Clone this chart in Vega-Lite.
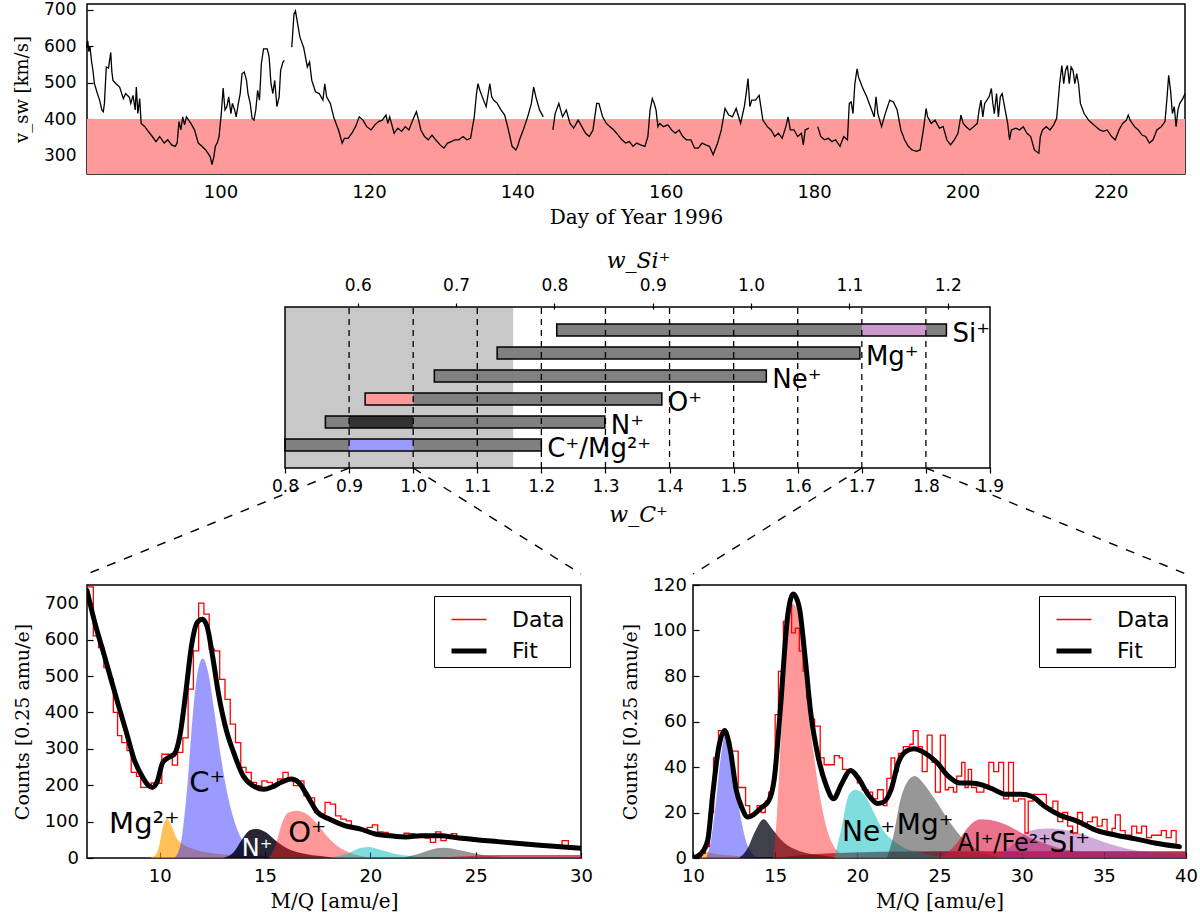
{
  "$schema": "https://vega.github.io/schema/vega-lite/v6.json",
  "background": "white",
  "padding": {"left": 12, "top": 0, "right": 5, "bottom": 5},
  "config": {
    "view": {"stroke": "black", "strokeWidth": 1.5},
    "font": "DejaVu Sans",
    "axis": {
      "labelFont": "DejaVu Sans", "labelFontSize": 18, "labelColor": "black", "labelFlush": false,
      "titleFont": "DejaVu Serif", "titleFontSize": 20, "titleFontWeight": "normal", "titleColor": "black",
      "domain": false, "tickColor": "black", "tickSize": -6, "tickWidth": 1.2, "grid": false
    }
  },
  "datasets": {
    "ts": [
      {"d":81.95,"v":595,"s":1},{"d":82.1,"v":615,"s":1},{"d":82.25,"v":585,"s":1},{"d":82.4,"v":600,"s":1},{"d":82.6,"v":560,"s":1},{"d":82.8,"v":534,"s":1},{"d":83.0,"v":497,"s":1},{"d":83.4,"v":470,"s":1},{"d":83.7,"v":452,"s":1},{"d":84.0,"v":425,"s":1},{"d":84.2,"v":420,"s":1},{"d":84.35,"v":443,"s":1},{"d":84.6,"v":543,"s":1},{"d":84.9,"v":540,"s":1},{"d":85.2,"v":583,"s":1},{"d":85.35,"v":530,"s":1},{"d":85.5,"v":506,"s":1},{"d":85.9,"v":497,"s":1},{"d":86.4,"v":488,"s":1},{"d":86.9,"v":456,"s":1},{"d":87.2,"v":470,"s":1},{"d":87.7,"v":460,"s":1},{"d":87.9,"v":443,"s":1},{"d":88.2,"v":465,"s":1},{"d":88.5,"v":425,"s":1},{"d":88.65,"v":488,"s":1},{"d":88.85,"v":415,"s":1},{"d":89.1,"v":456,"s":1},{"d":89.3,"v":388,"s":1},{"d":89.8,"v":379,"s":1},{"d":90.3,"v":365,"s":1},{"d":90.8,"v":352,"s":1},{"d":91.3,"v":338,"s":1},{"d":91.8,"v":352,"s":1},{"d":92.4,"v":334,"s":1},{"d":92.9,"v":343,"s":1},{"d":93.4,"v":329,"s":1},{"d":93.9,"v":325,"s":1},{"d":94.15,"v":334,"s":1},{"d":94.4,"v":393,"s":1},{"d":94.65,"v":370,"s":1},{"d":94.9,"v":406,"s":1},{"d":95.15,"v":384,"s":1},{"d":95.4,"v":406,"s":1},{"d":95.7,"v":397,"s":1},{"d":96.0,"v":388,"s":1},{"d":96.5,"v":370,"s":1},{"d":97.0,"v":334,"s":1},{"d":97.5,"v":325,"s":1},{"d":98.0,"v":315,"s":1},{"d":98.6,"v":297,"s":1},{"d":98.85,"v":275,"s":1},{"d":99.1,"v":297,"s":1},{"d":99.3,"v":325,"s":1},{"d":99.55,"v":334,"s":1},{"d":99.8,"v":352,"s":1},{"d":100.1,"v":415,"s":1},{"d":100.35,"v":485,"s":1},{"d":100.6,"v":425,"s":1},{"d":100.85,"v":434,"s":1},{"d":101.1,"v":461,"s":1},{"d":101.4,"v":415,"s":1},{"d":101.6,"v":443,"s":1},{"d":101.9,"v":425,"s":1},{"d":102.1,"v":406,"s":1},{"d":102.4,"v":443,"s":1},{"d":102.65,"v":470,"s":1},{"d":102.9,"v":525,"s":1},{"d":103.2,"v":529,"s":1},{"d":103.5,"v":506,"s":1},{"d":103.7,"v":470,"s":1},{"d":104.0,"v":443,"s":1},{"d":104.25,"v":402,"s":1},{"d":104.5,"v":397,"s":1},{"d":104.75,"v":425,"s":1},{"d":105.0,"v":479,"s":1},{"d":105.25,"v":452,"s":1},{"d":105.5,"v":552,"s":1},{"d":105.8,"v":593,"s":1},{"d":106.3,"v":593,"s":1},{"d":106.55,"v":570,"s":1},{"d":106.8,"v":497,"s":1},{"d":107.05,"v":470,"s":1},{"d":107.3,"v":506,"s":1},{"d":107.6,"v":434,"s":1},{"d":107.9,"v":461,"s":1},{"d":108.1,"v":534,"s":1},{"d":108.4,"v":556,"s":1},{"d":108.6,"v":561,"s":1},
      {"d":109.6,"v":597,"s":2},{"d":109.9,"v":688,"s":2},{"d":110.1,"v":697,"s":2},{"d":110.4,"v":661,"s":2},{"d":110.7,"v":625,"s":2},{"d":111.2,"v":597,"s":2},{"d":111.7,"v":543,"s":2},{"d":112.0,"v":557,"s":2},{"d":112.3,"v":506,"s":2},{"d":112.8,"v":475,"s":2},{"d":113.3,"v":470,"s":2},{"d":113.8,"v":452,"s":2},{"d":114.05,"v":497,"s":2},{"d":114.3,"v":461,"s":2},{"d":114.8,"v":443,"s":2},{"d":115.3,"v":402,"s":2},{"d":115.9,"v":370,"s":2},{"d":116.4,"v":334,"s":2},{"d":116.7,"v":347,"s":2},{"d":117.2,"v":347,"s":2},{"d":117.7,"v":361,"s":2},{"d":118.2,"v":379,"s":2},{"d":118.7,"v":406,"s":2},{"d":119.2,"v":397,"s":2},{"d":119.7,"v":379,"s":2},{"d":120.3,"v":370,"s":2},{"d":120.8,"v":384,"s":2},{"d":121.3,"v":393,"s":2},{"d":121.8,"v":397,"s":2},{"d":122.3,"v":411,"s":2},{"d":122.55,"v":388,"s":2},{"d":122.8,"v":406,"s":2},{"d":123.4,"v":361,"s":2},{"d":123.9,"v":375,"s":2},{"d":124.4,"v":366,"s":2},{"d":124.9,"v":379,"s":2},{"d":125.4,"v":370,"s":2},{"d":125.9,"v":397,"s":2},{"d":126.4,"v":420,"s":2},{"d":126.7,"v":397,"s":2},{"d":127.0,"v":370,"s":2},{"d":127.5,"v":352,"s":2},{"d":128.0,"v":343,"s":2},{"d":128.5,"v":356,"s":2},{"d":129.0,"v":343,"s":2},{"d":129.6,"v":329,"s":2},{"d":130.1,"v":320,"s":2},{"d":130.6,"v":334,"s":2},{"d":131.1,"v":338,"s":2},{"d":131.6,"v":343,"s":2},{"d":132.1,"v":343,"s":2},{"d":132.7,"v":352,"s":2},{"d":133.2,"v":343,"s":2},{"d":133.7,"v":347,"s":2},{"d":134.2,"v":406,"s":2},{"d":134.5,"v":470,"s":2},{"d":134.7,"v":497,"s":2},{"d":134.95,"v":479,"s":2},{"d":135.2,"v":465,"s":2},{"d":135.8,"v":434,"s":2},{"d":136.3,"v":497,"s":2},{"d":136.55,"v":461,"s":2},{"d":136.8,"v":452,"s":2},{"d":137.3,"v":443,"s":2},{"d":137.8,"v":425,"s":2},{"d":138.3,"v":411,"s":2},{"d":138.8,"v":370,"s":2},{"d":139.3,"v":325,"s":2},{"d":139.8,"v":315,"s":2},{"d":140.05,"v":325,"s":2},{"d":140.3,"v":343,"s":2},{"d":140.8,"v":370,"s":2},{"d":141.4,"v":406,"s":2},{"d":141.9,"v":443,"s":2},{"d":142.2,"v":488,"s":2},{"d":142.5,"v":461,"s":2},{"d":143.0,"v":425,"s":2},{"d":143.5,"v":406,"s":2},
      {"d":144.8,"v":370,"s":3},{"d":145.1,"v":415,"s":3},{"d":145.6,"v":443,"s":3},{"d":146.1,"v":406,"s":3},{"d":146.6,"v":425,"s":3},{"d":147.1,"v":388,"s":3},{"d":147.6,"v":375,"s":3},{"d":148.2,"v":397,"s":3},{"d":148.7,"v":379,"s":3},{"d":149.2,"v":361,"s":3},{"d":149.7,"v":352,"s":3},{"d":150.2,"v":370,"s":3},{"d":150.7,"v":443,"s":3},{"d":151.0,"v":443,"s":3},{"d":151.5,"v":406,"s":3},{"d":152.0,"v":388,"s":3},{"d":152.5,"v":379,"s":3},{"d":153.0,"v":370,"s":3},{"d":153.6,"v":356,"s":3},{"d":154.1,"v":343,"s":3},{"d":154.6,"v":334,"s":3},{"d":155.1,"v":338,"s":3},{"d":155.6,"v":325,"s":3},{"d":156.1,"v":334,"s":3},{"d":156.6,"v":329,"s":3},{"d":157.2,"v":325,"s":3},{"d":157.6,"v":352,"s":3},{"d":157.9,"v":425,"s":3},{"d":158.2,"v":456,"s":3},{"d":158.45,"v":443,"s":3},{"d":158.7,"v":425,"s":3},{"d":158.95,"v":379,"s":3},{"d":159.2,"v":388,"s":3},{"d":159.7,"v":379,"s":3},{"d":160.3,"v":384,"s":3},{"d":160.8,"v":370,"s":3},{"d":161.3,"v":361,"s":3},{"d":161.8,"v":370,"s":3},{"d":162.3,"v":352,"s":3},{"d":162.8,"v":343,"s":3},{"d":163.4,"v":343,"s":3},{"d":163.9,"v":320,"s":3},{"d":164.4,"v":320,"s":3},{"d":164.9,"v":334,"s":3},{"d":165.4,"v":329,"s":3},{"d":165.9,"v":325,"s":3},{"d":166.4,"v":302,"s":3},{"d":167.0,"v":334,"s":3},{"d":167.5,"v":370,"s":3},{"d":168.0,"v":429,"s":3},{"d":168.5,"v":411,"s":3},{"d":169.0,"v":406,"s":3},{"d":169.5,"v":429,"s":3},{"d":170.1,"v":388,"s":3},{"d":170.6,"v":434,"s":3},{"d":170.85,"v":470,"s":3},{"d":171.1,"v":511,"s":3},{"d":171.35,"v":434,"s":3},{"d":171.6,"v":452,"s":3},{"d":172.1,"v":452,"s":3},{"d":172.6,"v":465,"s":3},{"d":173.1,"v":397,"s":3},{"d":173.7,"v":379,"s":3},{"d":174.2,"v":370,"s":3},{"d":174.7,"v":352,"s":3},{"d":175.2,"v":361,"s":3},{"d":175.7,"v":347,"s":3},{"d":176.2,"v":379,"s":3},{"d":176.5,"v":406,"s":3},{"d":176.8,"v":370,"s":3},{"d":177.3,"v":370,"s":3},{"d":177.8,"v":352,"s":3},{"d":178.3,"v":361,"s":3},{"d":178.55,"v":329,"s":3},{"d":178.8,"v":370,"s":3},{"d":179.3,"v":375,"s":3},
      {"d":180.5,"v":379,"s":4},{"d":180.9,"v":352,"s":4},{"d":181.4,"v":343,"s":4},{"d":181.9,"v":347,"s":4},{"d":182.4,"v":338,"s":4},{"d":182.9,"v":343,"s":4},{"d":183.5,"v":325,"s":4},{"d":184.0,"v":352,"s":4},{"d":184.5,"v":343,"s":4},{"d":184.75,"v":443,"s":4},{"d":185.0,"v":447,"s":4},{"d":185.25,"v":415,"s":4},{"d":185.5,"v":497,"s":4},{"d":185.8,"v":538,"s":4},{"d":186.0,"v":515,"s":4},{"d":186.5,"v":488,"s":4},{"d":187.1,"v":461,"s":4},{"d":187.6,"v":434,"s":4},{"d":188.1,"v":406,"s":4},{"d":188.35,"v":461,"s":4},{"d":188.6,"v":415,"s":4},{"d":189.1,"v":379,"s":4},{"d":189.6,"v":415,"s":4},{"d":190.2,"v":452,"s":4},{"d":190.7,"v":447,"s":4},{"d":191.2,"v":425,"s":4},{"d":191.7,"v":370,"s":4},{"d":192.2,"v":343,"s":4},{"d":192.7,"v":325,"s":4},{"d":193.2,"v":315,"s":4},{"d":193.8,"v":311,"s":4},{"d":194.3,"v":315,"s":4},{"d":194.8,"v":379,"s":4},{"d":195.1,"v":429,"s":4},{"d":195.3,"v":406,"s":4},{"d":195.8,"v":388,"s":4},{"d":196.3,"v":397,"s":4},{"d":196.9,"v":375,"s":4},{"d":197.4,"v":379,"s":4},{"d":197.9,"v":343,"s":4},{"d":198.4,"v":329,"s":4},{"d":198.9,"v":343,"s":4},{"d":199.4,"v":361,"s":4},{"d":199.8,"v":411,"s":4},{"d":200.1,"v":388,"s":4},{"d":200.5,"v":379,"s":4},{"d":201.0,"v":370,"s":4},{"d":201.5,"v":379,"s":4},{"d":202.0,"v":388,"s":4},{"d":202.25,"v":425,"s":4},{"d":202.5,"v":452,"s":4},{"d":202.75,"v":406,"s":4},{"d":203.0,"v":443,"s":4},{"d":203.6,"v":461,"s":4},{"d":203.9,"v":484,"s":4},{"d":204.1,"v":443,"s":4},{"d":204.3,"v":415,"s":4},{"d":204.6,"v":470,"s":4},{"d":204.85,"v":406,"s":4},{"d":205.1,"v":461,"s":4},{"d":205.35,"v":470,"s":4},{"d":205.6,"v":443,"s":4},{"d":205.85,"v":415,"s":4},{"d":206.1,"v":388,"s":4},{"d":206.35,"v":343,"s":4},{"d":206.6,"v":370,"s":4},{"d":207.2,"v":375,"s":4},{"d":207.7,"v":370,"s":4},{"d":208.2,"v":379,"s":4},{"d":208.7,"v":361,"s":4},{"d":209.2,"v":352,"s":4},{"d":209.7,"v":315,"s":4},{"d":210.3,"v":306,"s":4},{"d":210.5,"v":352,"s":4},{"d":210.8,"v":370,"s":4},{"d":211.3,"v":379,"s":4},{"d":211.8,"v":370,"s":4},{"d":212.3,"v":384,"s":4},{"d":212.7,"v":402,"s":4},{"d":213.1,"v":497,"s":4},{"d":213.4,"v":547,"s":4},{"d":213.65,"v":497,"s":4},{"d":213.9,"v":534,"s":4},{"d":214.15,"v":547,"s":4},{"d":214.4,"v":497,"s":4},{"d":214.65,"v":543,"s":4},{"d":214.9,"v":534,"s":4},{"d":215.15,"v":497,"s":4},{"d":215.4,"v":525,"s":4},{"d":215.65,"v":497,"s":4},{"d":215.9,"v":443,"s":4},{"d":216.4,"v":415,"s":4},{"d":217.0,"v":397,"s":4},{"d":217.5,"v":388,"s":4},{"d":218.0,"v":379,"s":4},{"d":218.5,"v":370,"s":4},{"d":219.0,"v":366,"s":4},{"d":219.5,"v":370,"s":4},{"d":220.1,"v":352,"s":4},{"d":220.6,"v":343,"s":4},{"d":221.1,"v":370,"s":4},{"d":221.6,"v":388,"s":4},{"d":222.1,"v":397,"s":4},{"d":222.35,"v":411,"s":4},{"d":222.6,"v":397,"s":4},{"d":223.2,"v":379,"s":4},{"d":223.7,"v":370,"s":4},{"d":224.2,"v":356,"s":4},{"d":224.7,"v":352,"s":4},{"d":225.2,"v":334,"s":4},{"d":225.7,"v":343,"s":4},{"d":226.2,"v":370,"s":4},{"d":226.8,"v":379,"s":4},{"d":227.3,"v":393,"s":4},{"d":227.55,"v":452,"s":4},{"d":227.8,"v":520,"s":4},{"d":228.05,"v":479,"s":4},{"d":228.3,"v":415,"s":4},{"d":228.55,"v":434,"s":4},{"d":228.8,"v":379,"s":4},{"d":229.05,"v":425,"s":4},{"d":229.3,"v":443,"s":4},{"d":229.7,"v":456,"s":4},{"d":230.0,"v":470,"s":4}
    ],
    "hl": [
      {"m":6.55,"c":745},{"m":6.85,"c":610},{"m":7.1,"c":578},{"m":7.35,"c":523},{"m":7.6,"c":493},{"m":7.8,"c":400},{"m":8.0,"c":336},{"m":8.2,"c":317},{"m":8.45,"c":295},{"m":8.65,"c":235},{"m":8.9,"c":224},{"m":9.1,"c":194},{"m":9.6,"c":206},{"m":9.85,"c":205},{"m":10.1,"c":285},{"m":10.35,"c":285},{"m":10.6,"c":255},{"m":10.85,"c":290},{"m":11.1,"c":330},{"m":11.35,"c":464},{"m":11.6,"c":569},{"m":11.85,"c":700},{"m":12.1,"c":670},{"m":12.35,"c":574},{"m":12.6,"c":569},{"m":12.85,"c":491},{"m":13.1,"c":436},{"m":13.35,"c":368},{"m":13.6,"c":317},{"m":13.85,"c":249},{"m":14.1,"c":235},{"m":14.35,"c":208},{"m":14.6,"c":199},{"m":14.85,"c":212},{"m":15.1,"c":208},{"m":15.35,"c":199},{"m":15.6,"c":217},{"m":15.85,"c":235},{"m":16.1,"c":217},{"m":16.35,"c":199},{"m":16.6,"c":212},{"m":16.85,"c":171},{"m":17.1,"c":165},{"m":17.35,"c":125},{"m":17.6,"c":121},{"m":17.85,"c":153},{"m":18.1,"c":148},{"m":18.35,"c":116},{"m":18.6,"c":107},{"m":18.85,"c":102},{"m":19.1,"c":84},{"m":19.35,"c":80},{"m":19.6,"c":75},{"m":19.85,"c":84},{"m":20.1,"c":91},{"m":20.35,"c":72},{"m":20.6,"c":70},{"m":20.85,"c":63},{"m":21.1,"c":61},{"m":21.35,"c":58},{"m":21.6,"c":68},{"m":21.85,"c":67},{"m":22.1,"c":60},{"m":22.35,"c":62},{"m":22.6,"c":55},{"m":22.85,"c":43},{"m":23.1,"c":72},{"m":23.35,"c":48},{"m":23.6,"c":60},{"m":23.85,"c":67},{"m":24.1,"c":55},{"m":24.35,"c":50},{"m":24.6,"c":52},{"m":24.85,"c":46},{"m":25.1,"c":46},{"m":25.35,"c":45},{"m":25.6,"c":44},{"m":25.85,"c":42},{"m":26.1,"c":42},{"m":26.35,"c":40},{"m":26.6,"c":38},{"m":26.85,"c":37},{"m":27.1,"c":36},{"m":27.35,"c":34},{"m":27.6,"c":33},{"m":27.85,"c":32},{"m":28.1,"c":31},{"m":28.35,"c":30},{"m":28.6,"c":29},{"m":28.85,"c":28},{"m":29.1,"c":48},{"m":29.4,"c":27},{"m":29.7,"c":25},{"m":30.0,"c":25}
    ],
    "fl": [
      {"m":6.55,"c":735},{"m":6.96,"c":638},{"m":7.33,"c":565},{"m":7.69,"c":491},{"m":8.05,"c":418},{"m":8.42,"c":345},{"m":8.78,"c":272},{"m":9.15,"c":226},{"m":9.45,"c":200},{"m":9.65,"c":194},{"m":9.87,"c":208},{"m":10.15,"c":263},{"m":10.42,"c":276},{"m":10.69,"c":285},{"m":10.96,"c":336},{"m":11.24,"c":455},{"m":11.51,"c":583},{"m":11.78,"c":647},{"m":12.02,"c":656},{"m":12.24,"c":638},{"m":12.51,"c":555},{"m":12.78,"c":455},{"m":13.15,"c":354},{"m":13.51,"c":290},{"m":13.96,"c":226},{"m":14.42,"c":199},{"m":14.96,"c":189},{"m":15.33,"c":195},{"m":15.78,"c":208},{"m":16.24,"c":217},{"m":16.6,"c":208},{"m":16.96,"c":176},{"m":17.5,"c":125},{"m":18.05,"c":107},{"m":18.78,"c":89},{"m":19.5,"c":80},{"m":20.24,"c":66},{"m":20.96,"c":61},{"m":21.7,"c":58},{"m":22.4,"c":61},{"m":23.3,"c":61},{"m":24.2,"c":55},{"m":26.05,"c":45},{"m":27.9,"c":36},{"m":30.0,"c":27}
    ],
    "cl": [
      {"g":"mg2","m":9.5,"c":0},{"g":"mg2","m":9.8,"c":8},{"g":"mg2","m":10.0,"c":40},{"g":"mg2","m":10.15,"c":85},{"g":"mg2","m":10.35,"c":107},{"g":"mg2","m":10.55,"c":90},{"g":"mg2","m":10.8,"c":55},{"g":"mg2","m":11.1,"c":38},{"g":"mg2","m":11.6,"c":25},{"g":"mg2","m":12.3,"c":15},{"g":"mg2","m":13.3,"c":8},{"g":"mg2","m":14.5,"c":4},{"g":"mg2","m":16,"c":2},{"g":"mg2","m":19,"c":0},
      {"g":"c","m":10.7,"c":0},{"g":"c","m":11.0,"c":40},{"g":"c","m":11.3,"c":190},{"g":"c","m":11.6,"c":410},{"g":"c","m":11.85,"c":525},{"g":"c","m":12.05,"c":548},{"g":"c","m":12.3,"c":510},{"g":"c","m":12.6,"c":400},{"g":"c","m":12.9,"c":280},{"g":"c","m":13.2,"c":180},{"g":"c","m":13.5,"c":110},{"g":"c","m":13.8,"c":62},{"g":"c","m":14.2,"c":25},{"g":"c","m":14.7,"c":8},{"g":"c","m":15.5,"c":0},
      {"g":"n","m":13.0,"c":0},{"g":"n","m":13.5,"c":15},{"g":"n","m":13.9,"c":50},{"g":"n","m":14.3,"c":77},{"g":"n","m":14.6,"c":80},{"g":"n","m":15.0,"c":72},{"g":"n","m":15.5,"c":48},{"g":"n","m":16.0,"c":28},{"g":"n","m":17.0,"c":10},{"g":"n","m":18.0,"c":3},{"g":"n","m":19.0,"c":0},
      {"g":"o","m":15.2,"c":0},{"g":"o","m":15.5,"c":35},{"g":"o","m":15.8,"c":95},{"g":"o","m":16.1,"c":124},{"g":"o","m":16.5,"c":130},{"g":"o","m":17.0,"c":120},{"g":"o","m":17.5,"c":92},{"g":"o","m":18.0,"c":56},{"g":"o","m":18.5,"c":30},{"g":"o","m":19.0,"c":15},{"g":"o","m":19.5,"c":6},{"g":"o","m":20.5,"c":0},
      {"g":"ne","m":18.0,"c":0},{"g":"ne","m":18.8,"c":10},{"g":"ne","m":19.4,"c":25},{"g":"ne","m":19.9,"c":30},{"g":"ne","m":20.5,"c":22},{"g":"ne","m":21.3,"c":10},{"g":"ne","m":22.3,"c":3},{"g":"ne","m":23.0,"c":0},
      {"g":"mg","m":21.5,"c":0},{"g":"mg","m":22.3,"c":12},{"g":"mg","m":23.0,"c":25},{"g":"mg","m":23.5,"c":28},{"g":"mg","m":24.2,"c":22},{"g":"mg","m":25.0,"c":12},{"g":"mg","m":26.0,"c":4},{"g":"mg","m":27.0,"c":0},
      {"g":"alfe","m":23.0,"c":0},{"g":"alfe","m":24.5,"c":5},{"g":"alfe","m":26.0,"c":8},{"g":"alfe","m":28.0,"c":8},{"g":"alfe","m":30.0,"c":8}
    ],
    "hr": [
      {"m":10.0,"c":0},{"m":10.5,"c":2},{"m":10.75,"c":5},{"m":11.0,"c":20},{"m":11.25,"c":44},{"m":11.55,"c":56},{"m":11.8,"c":55},{"m":12.05,"c":51},{"m":12.3,"c":47},{"m":12.75,"c":31},{"m":13.2,"c":23},{"m":13.45,"c":19},{"m":13.7,"c":20},{"m":13.9,"c":23},{"m":14.15,"c":20},{"m":14.4,"c":25},{"m":14.6,"c":29},{"m":14.85,"c":36},{"m":15.0,"c":63},{"m":15.2,"c":82},{"m":15.5,"c":104},{"m":15.77,"c":111},{"m":16.0,"c":99},{"m":16.23,"c":101},{"m":16.47,"c":91},{"m":16.7,"c":82},{"m":16.93,"c":70},{"m":17.16,"c":61},{"m":17.4,"c":58},{"m":17.74,"c":44},{"m":17.98,"c":41},{"m":18.33,"c":41},{"m":18.6,"c":45},{"m":18.9,"c":44},{"m":19.1,"c":39},{"m":19.37,"c":38},{"m":19.72,"c":37},{"m":20.0,"c":33},{"m":20.3,"c":30},{"m":20.65,"c":29},{"m":20.93,"c":26},{"m":21.23,"c":30},{"m":21.58,"c":23},{"m":21.8,"c":35},{"m":22.05,"c":44},{"m":22.28,"c":38},{"m":22.5,"c":46},{"m":22.8,"c":49},{"m":23.2,"c":50},{"m":23.4,"c":56},{"m":23.7,"c":49},{"m":23.95,"c":38},{"m":24.25,"c":54},{"m":24.55,"c":42},{"m":24.75,"c":29},{"m":25.05,"c":54},{"m":25.35,"c":30},{"m":25.55,"c":31},{"m":25.85,"c":29},{"m":26.05,"c":36},{"m":26.35,"c":42},{"m":26.55,"c":31},{"m":26.75,"c":39},{"m":26.95,"c":31},{"m":27.25,"c":29},{"m":27.7,"c":31},{"m":28.0,"c":42},{"m":28.3,"c":38},{"m":28.6,"c":42},{"m":28.9,"c":26},{"m":29.2,"c":42},{"m":29.5,"c":25},{"m":29.8,"c":26},{"m":30.2,"c":11},{"m":30.4,"c":25},{"m":30.7,"c":28},{"m":31.5,"c":22},{"m":31.9,"c":25},{"m":32.2,"c":16},{"m":32.5,"c":20},{"m":32.8,"c":14},{"m":33.1,"c":11},{"m":33.4,"c":20},{"m":33.7,"c":14},{"m":34.0,"c":16},{"m":34.3,"c":18},{"m":34.6,"c":14},{"m":34.9,"c":17},{"m":35.2,"c":10},{"m":35.5,"c":13},{"m":35.7,"c":19},{"m":36.0,"c":12},{"m":36.3,"c":10},{"m":36.7,"c":14},{"m":37.0,"c":11},{"m":37.3,"c":14},{"m":37.6,"c":9},{"m":37.9,"c":10},{"m":38.5,"c":12},{"m":38.8,"c":9},{"m":39.1,"c":12},{"m":39.4,"c":5},{"m":39.7,"c":5}
    ],
    "fr": [
      {"m":10.0,"c":0},{"m":10.5,"c":2},{"m":10.9,"c":8},{"m":11.2,"c":28},{"m":11.55,"c":48},{"m":11.93,"c":56},{"m":12.28,"c":47},{"m":12.63,"c":30},{"m":12.98,"c":22},{"m":13.33,"c":18},{"m":13.67,"c":19},{"m":14.14,"c":22},{"m":14.6,"c":25},{"m":14.95,"c":35},{"m":15.3,"c":64},{"m":15.77,"c":107},{"m":16.1,"c":116},{"m":16.47,"c":110},{"m":16.81,"c":89},{"m":17.16,"c":64},{"m":17.63,"c":44},{"m":18.1,"c":32},{"m":18.56,"c":26},{"m":19.0,"c":32},{"m":19.6,"c":38.5},{"m":20.07,"c":35},{"m":20.65,"c":28},{"m":21.23,"c":24},{"m":21.58,"c":24.5},{"m":22.05,"c":30},{"m":22.5,"c":42},{"m":22.98,"c":47},{"m":23.44,"c":48},{"m":24.14,"c":46},{"m":24.84,"c":42},{"m":25.53,"c":36},{"m":26.23,"c":33},{"m":26.93,"c":33},{"m":27.63,"c":32},{"m":28.33,"c":30},{"m":29.0,"c":28},{"m":29.95,"c":28},{"m":30.65,"c":27},{"m":31.35,"c":23},{"m":32.28,"c":19},{"m":33.44,"c":16},{"m":34.6,"c":12},{"m":35.77,"c":10},{"m":36.93,"c":8.4},{"m":38.1,"c":6.6},{"m":39.6,"c":5}
    ],
    "cr": [
      {"g":"fe","m":15,"c":0},{"g":"fe","m":18,"c":2},{"g":"fe","m":25,"c":3},{"g":"fe","m":40,"c":3},
      {"g":"mg2","m":10.2,"c":0},{"g":"mg2","m":10.7,"c":3},{"g":"mg2","m":11.2,"c":2},{"g":"mg2","m":12.5,"c":1},{"g":"mg2","m":14,"c":0},
      {"g":"c","m":10.8,"c":0},{"g":"c","m":11.1,"c":8},{"g":"c","m":11.4,"c":25},{"g":"c","m":11.7,"c":45},{"g":"c","m":12.0,"c":55},{"g":"c","m":12.3,"c":48},{"g":"c","m":12.6,"c":32},{"g":"c","m":12.9,"c":18},{"g":"c","m":13.2,"c":8},{"g":"c","m":13.6,"c":2},{"g":"c","m":14.0,"c":0},
      {"g":"n","m":12.8,"c":0},{"g":"n","m":13.3,"c":4},{"g":"n","m":13.8,"c":12},{"g":"n","m":14.3,"c":17},{"g":"n","m":14.8,"c":13},{"g":"n","m":15.5,"c":7},{"g":"n","m":16.5,"c":3},{"g":"n","m":18,"c":1},{"g":"n","m":19,"c":0},
      {"g":"o","m":14.9,"c":0},{"g":"o","m":15.1,"c":18},{"g":"o","m":15.4,"c":60},{"g":"o","m":15.7,"c":95},{"g":"o","m":16.0,"c":112},{"g":"o","m":16.3,"c":110},{"g":"o","m":16.6,"c":95},{"g":"o","m":16.9,"c":72},{"g":"o","m":17.3,"c":48},{"g":"o","m":17.7,"c":28},{"g":"o","m":18.1,"c":14},{"g":"o","m":18.5,"c":6},{"g":"o","m":19.0,"c":2},{"g":"o","m":20,"c":0},
      {"g":"ne","m":18.6,"c":0},{"g":"ne","m":19.0,"c":12},{"g":"ne","m":19.5,"c":28},{"g":"ne","m":19.9,"c":30},{"g":"ne","m":20.5,"c":27},{"g":"ne","m":21.0,"c":20},{"g":"ne","m":21.5,"c":13},{"g":"ne","m":22.5,"c":6},{"g":"ne","m":24,"c":2},{"g":"ne","m":25.5,"c":0},
      {"g":"mg","m":21.8,"c":0},{"g":"mg","m":22.2,"c":10},{"g":"mg","m":22.6,"c":25},{"g":"mg","m":23.0,"c":33},{"g":"mg","m":23.5,"c":36},{"g":"mg","m":24.0,"c":33},{"g":"mg","m":24.7,"c":26},{"g":"mg","m":25.5,"c":17},{"g":"mg","m":26.5,"c":8},{"g":"mg","m":27.5,"c":3},{"g":"mg","m":29,"c":0},
      {"g":"alfe","m":25,"c":0},{"g":"alfe","m":26,"c":6},{"g":"alfe","m":26.8,"c":14},{"g":"alfe","m":27.5,"c":17},{"g":"alfe","m":28.5,"c":16},{"g":"alfe","m":29.5,"c":13},{"g":"alfe","m":30.5,"c":9},{"g":"alfe","m":32,"c":5},{"g":"alfe","m":34,"c":2},{"g":"alfe","m":36,"c":1},{"g":"alfe","m":40,"c":1},
      {"g":"si","m":28.5,"c":0},{"g":"si","m":29.5,"c":6},{"g":"si","m":30.5,"c":12},{"g":"si","m":31.5,"c":13},{"g":"si","m":32.5,"c":12.5},{"g":"si","m":33.5,"c":11},{"g":"si","m":35,"c":7},{"g":"si","m":36.5,"c":4},{"g":"si","m":38,"c":2.5},{"g":"si","m":40,"c":1.5}
    ],
    "bars": [
      {"r":6,"a":1.224,"b":1.832,"t":"Si⁺"},
      {"r":5,"a":1.131,"b":1.697,"t":"Mg⁺"},
      {"r":4,"a":1.033,"b":1.551,"t":"Ne⁺"},
      {"r":3,"a":0.925,"b":1.388,"t":"O⁺"},
      {"r":2,"a":0.863,"b":1.299,"t":"N⁺"},
      {"r":1,"a":0.8,"b":1.2,"t":"C⁺/Mg²⁺"}
    ]
  },
  "vconcat": [
    {
      "width": 1098,
      "height": 170,
      "layer": [
        {
          "data": {"values": [{"lo": 249, "hi": 400}]},
          "mark": {"type": "rect", "color": "#ff9a9a"},
          "encoding": {
            "y": {"field": "lo", "type": "quantitative", "scale": {"domain": [249, 716], "nice": false, "zero": false}},
            "y2": {"field": "hi"}
          }
        },
        {
          "data": {"name": "ts"},
          "mark": {"type": "line", "color": "black", "strokeWidth": 1.3},
          "encoding": {
            "x": {"field": "d", "type": "quantitative", "scale": {"domain": [82, 230], "nice": false, "zero": false},
                  "axis": {"values": [100, 120, 140, 160, 180, 200, 220], "title": "Day of Year 1996", "labelPadding": 15, "titlePadding": 6}},
            "y": {"field": "v", "type": "quantitative", "scale": {"domain": [249, 716], "nice": false, "zero": false},
                  "axis": {"values": [300, 400, 500, 600, 700], "title": "v_sw [km/s]", "labelFontSize": 17, "titleFontSize": 18, "labelPadding": 17, "titlePadding": 12}},
            "detail": {"field": "s", "type": "nominal"}
          }
        }
      ]
    },
    {
      "width": 903,
      "height": 187,
      "view": {"stroke": null},
      "resolve": {"scale": {"x": "independent"}},
      "layer": [
        {
          "layer": [
            {
              "data": {"values": [{"a": 0.8, "b": 1.156}]},
              "mark": {"type": "rect", "color": "#c8c8c8"},
              "encoding": {
                "x": {"field": "a", "type": "quantitative", "scale": {"domain": [0.49106, 1.9], "nice": false, "zero": false},
                      "axis": {"values": [0.8, 0.9, 1.0, 1.1, 1.2, 1.3, 1.4, 1.5, 1.6, 1.7, 1.8, 1.9], "format": ".1f", "labelFontSize": 17,
                               "labelPadding": 11, "title": "w_C⁺", "titleFontSize": 22, "titleFontStyle": "italic", "titlePadding": 10, "titleX": 551}},
                "x2": {"field": "b"},
                "y": {"datum": 0, "type": "quantitative", "scale": {"domain": [0, 7.7], "nice": false, "zero": false}, "axis": null},
                "y2": {"datum": 7}
              }
            },
            {
              "data": {"name": "bars"},
              "mark": {"type": "bar", "size": 12, "color": "#808080"},
              "encoding": {
                "x": {"field": "a", "type": "quantitative", "scale": {"domain": [0.49106, 1.9], "nice": false, "zero": false}},
                "x2": {"field": "b"},
                "y": {"field": "r", "type": "quantitative", "scale": {"domain": [0, 7.7], "nice": false, "zero": false}, "axis": null}
              }
            },
            {
              "data": {"values": [
                {"r": 6, "a": 1.7, "b": 1.8, "k": "si"},
                {"r": 3, "a": 0.925, "b": 1.0, "k": "o"},
                {"r": 2, "a": 0.9, "b": 1.0, "k": "n"},
                {"r": 1, "a": 0.9, "b": 1.0, "k": "c"}
              ]},
              "mark": {"type": "bar", "size": 12},
              "encoding": {
                "x": {"field": "a", "type": "quantitative", "scale": {"domain": [0.49106, 1.9], "nice": false, "zero": false}},
                "x2": {"field": "b"},
                "y": {"field": "r", "type": "quantitative", "scale": {"domain": [0, 7.7], "nice": false, "zero": false}, "axis": null},
                "color": {"field": "k", "type": "nominal", "scale": {"domain": ["si", "o", "n", "c"], "range": ["#cc99cc", "#ff9999", "#333333", "#9999ff"]}, "legend": null}
              }
            },
            {
              "data": {"name": "bars"},
              "mark": {"type": "bar", "size": 12, "filled": false, "color": "black", "strokeWidth": 1.5},
              "encoding": {
                "x": {"field": "a", "type": "quantitative", "scale": {"domain": [0.49106, 1.9], "nice": false, "zero": false}},
                "x2": {"field": "b"},
                "y": {"field": "r", "type": "quantitative", "scale": {"domain": [0, 7.7], "nice": false, "zero": false}, "axis": null}
              }
            },
            {
              "data": {"values": [{"a": 0.9}, {"a": 1.0}, {"a": 1.1}, {"a": 1.2}, {"a": 1.3}, {"a": 1.4}, {"a": 1.5}, {"a": 1.6}, {"a": 1.7}, {"a": 1.8}]},
              "mark": {"type": "rule", "color": "black", "strokeWidth": 1.3, "strokeDash": [6, 5]},
              "encoding": {
                "x": {"field": "a", "type": "quantitative", "scale": {"domain": [0.49106, 1.9], "nice": false, "zero": false}},
                "y": {"datum": 0, "type": "quantitative", "scale": {"domain": [0, 7.7], "nice": false, "zero": false}, "axis": null},
                "y2": {"datum": 7}
              }
            },
            {
              "data": {"name": "bars"},
              "mark": {"type": "text", "align": "left", "baseline": "alphabetic", "dx": 6, "dy": 12, "fontSize": 26, "font": "DejaVu Sans", "color": "black"},
              "encoding": {
                "x": {"field": "b", "type": "quantitative", "scale": {"domain": [0.49106, 1.9], "nice": false, "zero": false}},
                "y": {"field": "r", "type": "quantitative", "scale": {"domain": [0, 7.7], "nice": false, "zero": false}, "axis": null},
                "text": {"field": "t"}
              }
            },
            {
              "data": {"values": [
                {"a": 0.9, "b": 0.4911, "r": 0, "r2": -4.612},
                {"a": 1.0, "b": 1.2619, "r": 0, "r2": -4.612},
                {"a": 1.7, "b": 1.4367, "r": 0, "r2": -4.612},
                {"a": 1.8, "b": 2.2058, "r": 0, "r2": -4.612}
              ]},
              "mark": {"type": "rule", "color": "black", "strokeWidth": 1.4, "strokeDash": [9, 9], "clip": false},
              "encoding": {
                "x": {"field": "a", "type": "quantitative", "scale": {"domain": [0.49106, 1.9], "nice": false, "zero": false}},
                "x2": {"field": "b"},
                "y": {"field": "r", "type": "quantitative", "scale": {"domain": [0, 7.7], "nice": false, "zero": false}, "axis": null},
                "y2": {"field": "r2"}
              }
            },
            {
              "data": {"values": [{"a": 0.8, "b": 1.9}]},
              "mark": {"type": "rect", "filled": false, "color": "black", "strokeWidth": 1.5},
              "encoding": {
                "x": {"field": "a", "type": "quantitative", "scale": {"domain": [0.49106, 1.9], "nice": false, "zero": false}},
                "x2": {"field": "b"},
                "y": {"datum": 0, "type": "quantitative", "scale": {"domain": [0, 7.7], "nice": false, "zero": false}, "axis": null},
                "y2": {"datum": 7}
              }
            }
          ]
        },
        {
          "data": {"values": [{"ws": 0.9}]},
          "mark": {"type": "point", "opacity": 0},
          "encoding": {
            "x": {"field": "ws", "type": "quantitative", "scale": {"domain": [0.32463, 1.243], "nice": false, "zero": false},
                  "axis": {"orient": "top", "offset": -17, "values": [0.6, 0.7, 0.8, 0.9, 1.0, 1.1, 1.2], "format": ".1f", "labelFontSize": 17,
                           "labelPadding": 15, "title": "w_Si⁺", "titleFontSize": 22, "titleFontStyle": "italic", "titlePadding": 4, "titleX": 551}}
          }
        }
      ]
    },
    {
      "spacing": 112,
      "bounds": "flush",
      "resolve": {"scale": {"color": "independent", "strokeWidth": "independent", "fill": "independent", "fillOpacity": "independent"}},
      "hconcat": [
        {
          "width": 494,
          "height": 273,
          "encoding": {
            "x": {"field": "m", "type": "quantitative", "scale": {"domain": [6.55, 30], "nice": false, "zero": false},
                  "axis": {"values": [10, 15, 20, 25, 30], "title": "M/Q [amu/e]", "labelPadding": 15, "titlePadding": 6}},
            "y": {"field": "c", "type": "quantitative", "stack": null, "scale": {"domain": [0, 750], "nice": false},
                  "axis": {"values": [0, 100, 200, 300, 400, 500, 600, 700], "title": "Counts [0.25 amu/e]", "titleFontSize": 19, "labelPadding": 14.5, "titlePadding": 12}}
          },
          "layer": [
            {
              "data": {"name": "cl"},
              "mark": {"type": "area", "interpolate": "monotone", "clip": true},
              "encoding": {
                "fill": {"field": "g", "type": "nominal", "legend": null,
                         "scale": {"domain": ["mg2", "c", "n", "o", "ne", "mg", "alfe"], "range": ["#ffa000", "#2020ff", "#000010", "#ff1a1a", "#00bcbc", "#303030", "#dc143c"]}},
                "fillOpacity": {"field": "g", "type": "nominal", "legend": null,
                         "scale": {"type": "ordinal", "domain": ["mg2", "c", "n", "o", "ne", "mg", "alfe"], "range": [0.65, 0.45, 0.85, 0.45, 0.5, 0.5, 0.75]}}
              }
            },
            {
              "data": {"name": "hl"},
              "mark": {"type": "line", "interpolate": "step-after", "clip": true},
              "encoding": {
                "color": {"datum": "Data", "type": "nominal", "scale": {"domain": ["Data", "Fit"], "range": ["#ff0000", "#000000"]},
                          "legend": {"title": null, "orient": "top-right", "offset": 11, "padding": 5, "strokeColor": "black", "fillColor": "white", "cornerRadius": 0,
                                     "labelFontSize": 22, "labelFont": "DejaVu Sans", "labelColor": "black", "symbolType": "stroke", "symbolSize": 1225,
                                     "symbolOffset": 10, "labelOffset": 23, "rowPadding": 0}},
                "strokeWidth": {"datum": "Data", "type": "nominal", "scale": {"domain": ["Data", "Fit"], "range": [1.3, 5]},
                          "legend": {"title": null, "orient": "top-right", "offset": 11, "padding": 5, "strokeColor": "black", "fillColor": "white", "cornerRadius": 0,
                                     "labelFontSize": 22, "labelFont": "DejaVu Sans", "labelColor": "black", "symbolType": "stroke", "symbolSize": 1225,
                                     "symbolOffset": 10, "labelOffset": 23, "rowPadding": 0}}
              }
            },
            {
              "data": {"name": "fl"},
              "mark": {"type": "line", "interpolate": "monotone", "strokeCap": "round", "clip": true},
              "encoding": {
                "color": {"datum": "Fit", "type": "nominal"},
                "strokeWidth": {"datum": "Fit", "type": "nominal"}
              }
            },
            {
              "data": {"values": [{"m": 7.6, "c": 70, "t": "Mg²⁺"}, {"m": 11.4, "c": 180, "t": "C⁺"}, {"m": 16.1, "c": 43, "t": "O⁺"}]},
              "mark": {"type": "text", "align": "left", "baseline": "alphabetic", "fontSize": 29, "color": "black"},
              "encoding": {"text": {"field": "t"}}
            },
            {
              "data": {"values": [{"m": 13.9, "c": 6, "t": "N⁺"}]},
              "mark": {"type": "text", "align": "left", "baseline": "alphabetic", "fontSize": 24, "color": "white"},
              "encoding": {"text": {"field": "t"}}
            }
          ]
        },
        {
          "width": 493,
          "height": 273,
          "encoding": {
            "x": {"field": "m", "type": "quantitative", "scale": {"domain": [10, 40], "nice": false, "zero": false},
                  "axis": {"values": [10, 15, 20, 25, 30, 35, 40], "title": "M/Q [amu/e]", "labelPadding": 15, "titlePadding": 6}},
            "y": {"field": "c", "type": "quantitative", "stack": null, "scale": {"domain": [0, 120], "nice": false},
                  "axis": {"values": [0, 20, 40, 60, 80, 100, 120], "title": "Counts [0.25 amu/e]", "titleFontSize": 19, "labelPadding": 12.5, "titlePadding": 12}}
          },
          "layer": [
            {
              "data": {"name": "cr"},
              "mark": {"type": "area", "interpolate": "monotone", "clip": true},
              "encoding": {
                "fill": {"field": "g", "type": "nominal", "legend": null,
                         "scale": {"domain": ["fe", "mg2", "c", "n", "o", "ne", "mg", "alfe", "si"], "range": ["#a0001a", "#ffa000", "#2020ff", "#000010", "#ff1a1a", "#00bcbc", "#303030", "#dc143c", "#8a2aa0"]}},
                "fillOpacity": {"field": "g", "type": "nominal", "legend": null,
                         "scale": {"type": "ordinal", "domain": ["fe", "mg2", "c", "n", "o", "ne", "mg", "alfe", "si"], "range": [0.8, 0.65, 0.45, 0.75, 0.45, 0.5, 0.5, 0.6, 0.4]}}
              }
            },
            {
              "data": {"name": "hr"},
              "mark": {"type": "line", "interpolate": "step-after", "clip": true},
              "encoding": {
                "color": {"datum": "Data", "type": "nominal", "scale": {"domain": ["Data", "Fit"], "range": ["#ff0000", "#000000"]},
                          "legend": {"title": null, "orient": "top-right", "offset": 11, "padding": 5, "strokeColor": "black", "fillColor": "white", "cornerRadius": 0,
                                     "labelFontSize": 22, "labelFont": "DejaVu Sans", "labelColor": "black", "symbolType": "stroke", "symbolSize": 1225,
                                     "symbolOffset": 10, "labelOffset": 23, "rowPadding": 0}},
                "strokeWidth": {"datum": "Data", "type": "nominal", "scale": {"domain": ["Data", "Fit"], "range": [1.3, 5]},
                          "legend": {"title": null, "orient": "top-right", "offset": 11, "padding": 5, "strokeColor": "black", "fillColor": "white", "cornerRadius": 0,
                                     "labelFontSize": 22, "labelFont": "DejaVu Sans", "labelColor": "black", "symbolType": "stroke", "symbolSize": 1225,
                                     "symbolOffset": 10, "labelOffset": 23, "rowPadding": 0}}
              }
            },
            {
              "data": {"name": "fr"},
              "mark": {"type": "line", "interpolate": "monotone", "strokeCap": "round", "clip": true},
              "encoding": {
                "color": {"datum": "Fit", "type": "nominal"},
                "strokeWidth": {"datum": "Fit", "type": "nominal"}
              }
            },
            {
              "data": {"values": [{"m": 19.07, "c": 7.6, "t": "Ne⁺"}, {"m": 22.4, "c": 10.6, "t": "Mg⁺"}, {"m": 31.7, "c": 2.5, "t": "Si⁺"}]},
              "mark": {"type": "text", "align": "left", "baseline": "alphabetic", "fontSize": 28, "color": "black"},
              "encoding": {"text": {"field": "t"}}
            },
            {
              "data": {"values": [{"m": 26.1, "c": 3.2, "t": "Al⁺/Fe²⁺"}]},
              "mark": {"type": "text", "align": "left", "baseline": "alphabetic", "fontSize": 24, "color": "black"},
              "encoding": {"text": {"field": "t"}}
            }
          ]
        }
      ]
    }
  ],
  "spacing": 112,
  "bounds": "flush"
}
